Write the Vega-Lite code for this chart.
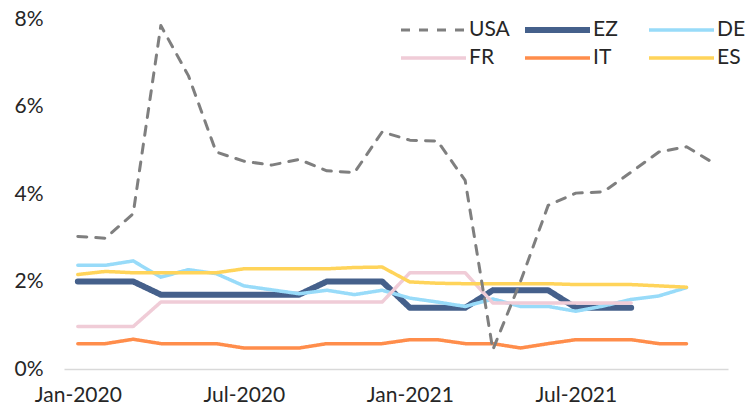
{
  "$schema": "https://vega.github.io/schema/vega-lite/v6.json",
  "autosize": {"type": "none"},
  "width": 664,
  "height": 350,
  "padding": {"left": 64, "top": 19, "right": 17, "bottom": 40},
  "config": {
    "font": "Lato",
    "view": {"stroke": null},
    "axis": {"labelFont": "Lato", "labelFontSize": 21, "labelColor": "#262626"},
    "legend": {"labelFont": "Lato", "labelFontSize": 21, "labelColor": "#262626"}
  },
  "data": {
    "values": [
      {"month": "Jan-2020", "series": "EZ", "value": 2.0},
      {"month": "Feb-2020", "series": "EZ", "value": 2.0},
      {"month": "Mar-2020", "series": "EZ", "value": 2.0},
      {"month": "Apr-2020", "series": "EZ", "value": 1.7},
      {"month": "May-2020", "series": "EZ", "value": 1.7},
      {"month": "Jun-2020", "series": "EZ", "value": 1.7},
      {"month": "Jul-2020", "series": "EZ", "value": 1.7},
      {"month": "Aug-2020", "series": "EZ", "value": 1.7},
      {"month": "Sep-2020", "series": "EZ", "value": 1.7},
      {"month": "Oct-2020", "series": "EZ", "value": 2.0},
      {"month": "Nov-2020", "series": "EZ", "value": 2.0},
      {"month": "Dec-2020", "series": "EZ", "value": 2.0},
      {"month": "Jan-2021", "series": "EZ", "value": 1.4},
      {"month": "Feb-2021", "series": "EZ", "value": 1.4},
      {"month": "Mar-2021", "series": "EZ", "value": 1.4},
      {"month": "Apr-2021", "series": "EZ", "value": 1.8},
      {"month": "May-2021", "series": "EZ", "value": 1.8},
      {"month": "Jun-2021", "series": "EZ", "value": 1.8},
      {"month": "Jul-2021", "series": "EZ", "value": 1.4},
      {"month": "Aug-2021", "series": "EZ", "value": 1.4},
      {"month": "Sep-2021", "series": "EZ", "value": 1.4},

      {"month": "Jan-2020", "series": "DE", "value": 2.37},
      {"month": "Feb-2020", "series": "DE", "value": 2.37},
      {"month": "Mar-2020", "series": "DE", "value": 2.47},
      {"month": "Apr-2020", "series": "DE", "value": 2.10},
      {"month": "May-2020", "series": "DE", "value": 2.27},
      {"month": "Jun-2020", "series": "DE", "value": 2.18},
      {"month": "Jul-2020", "series": "DE", "value": 1.90},
      {"month": "Aug-2020", "series": "DE", "value": 1.81},
      {"month": "Sep-2020", "series": "DE", "value": 1.72},
      {"month": "Oct-2020", "series": "DE", "value": 1.80},
      {"month": "Nov-2020", "series": "DE", "value": 1.70},
      {"month": "Dec-2020", "series": "DE", "value": 1.80},
      {"month": "Jan-2021", "series": "DE", "value": 1.62},
      {"month": "Feb-2021", "series": "DE", "value": 1.53},
      {"month": "Mar-2021", "series": "DE", "value": 1.43},
      {"month": "Apr-2021", "series": "DE", "value": 1.60},
      {"month": "May-2021", "series": "DE", "value": 1.43},
      {"month": "Jun-2021", "series": "DE", "value": 1.43},
      {"month": "Jul-2021", "series": "DE", "value": 1.32},
      {"month": "Aug-2021", "series": "DE", "value": 1.44},
      {"month": "Sep-2021", "series": "DE", "value": 1.59},
      {"month": "Oct-2021", "series": "DE", "value": 1.67},
      {"month": "Nov-2021", "series": "DE", "value": 1.86},

      {"month": "Jan-2020", "series": "FR", "value": 0.97},
      {"month": "Feb-2020", "series": "FR", "value": 0.97},
      {"month": "Mar-2020", "series": "FR", "value": 0.97},
      {"month": "Apr-2020", "series": "FR", "value": 1.53},
      {"month": "May-2020", "series": "FR", "value": 1.53},
      {"month": "Jun-2020", "series": "FR", "value": 1.53},
      {"month": "Jul-2020", "series": "FR", "value": 1.53},
      {"month": "Aug-2020", "series": "FR", "value": 1.53},
      {"month": "Sep-2020", "series": "FR", "value": 1.53},
      {"month": "Oct-2020", "series": "FR", "value": 1.53},
      {"month": "Nov-2020", "series": "FR", "value": 1.53},
      {"month": "Dec-2020", "series": "FR", "value": 1.53},
      {"month": "Jan-2021", "series": "FR", "value": 2.2},
      {"month": "Feb-2021", "series": "FR", "value": 2.2},
      {"month": "Mar-2021", "series": "FR", "value": 2.2},
      {"month": "Apr-2021", "series": "FR", "value": 1.51},
      {"month": "May-2021", "series": "FR", "value": 1.51},
      {"month": "Jun-2021", "series": "FR", "value": 1.51},
      {"month": "Jul-2021", "series": "FR", "value": 1.51},
      {"month": "Aug-2021", "series": "FR", "value": 1.51},
      {"month": "Sep-2021", "series": "FR", "value": 1.51},

      {"month": "Jan-2020", "series": "IT", "value": 0.58},
      {"month": "Feb-2020", "series": "IT", "value": 0.58},
      {"month": "Mar-2020", "series": "IT", "value": 0.68},
      {"month": "Apr-2020", "series": "IT", "value": 0.58},
      {"month": "May-2020", "series": "IT", "value": 0.58},
      {"month": "Jun-2020", "series": "IT", "value": 0.58},
      {"month": "Jul-2020", "series": "IT", "value": 0.48},
      {"month": "Aug-2020", "series": "IT", "value": 0.48},
      {"month": "Sep-2020", "series": "IT", "value": 0.48},
      {"month": "Oct-2020", "series": "IT", "value": 0.58},
      {"month": "Nov-2020", "series": "IT", "value": 0.58},
      {"month": "Dec-2020", "series": "IT", "value": 0.58},
      {"month": "Jan-2021", "series": "IT", "value": 0.67},
      {"month": "Feb-2021", "series": "IT", "value": 0.67},
      {"month": "Mar-2021", "series": "IT", "value": 0.58},
      {"month": "Apr-2021", "series": "IT", "value": 0.58},
      {"month": "May-2021", "series": "IT", "value": 0.48},
      {"month": "Jun-2021", "series": "IT", "value": 0.58},
      {"month": "Jul-2021", "series": "IT", "value": 0.67},
      {"month": "Aug-2021", "series": "IT", "value": 0.67},
      {"month": "Sep-2021", "series": "IT", "value": 0.67},
      {"month": "Oct-2021", "series": "IT", "value": 0.58},
      {"month": "Nov-2021", "series": "IT", "value": 0.58},

      {"month": "Jan-2020", "series": "ES", "value": 2.16},
      {"month": "Feb-2020", "series": "ES", "value": 2.23},
      {"month": "Mar-2020", "series": "ES", "value": 2.20},
      {"month": "Apr-2020", "series": "ES", "value": 2.20},
      {"month": "May-2020", "series": "ES", "value": 2.20},
      {"month": "Jun-2020", "series": "ES", "value": 2.20},
      {"month": "Jul-2020", "series": "ES", "value": 2.29},
      {"month": "Aug-2020", "series": "ES", "value": 2.29},
      {"month": "Sep-2020", "series": "ES", "value": 2.29},
      {"month": "Oct-2020", "series": "ES", "value": 2.29},
      {"month": "Nov-2020", "series": "ES", "value": 2.32},
      {"month": "Dec-2020", "series": "ES", "value": 2.33},
      {"month": "Jan-2021", "series": "ES", "value": 1.99},
      {"month": "Feb-2021", "series": "ES", "value": 1.96},
      {"month": "Mar-2021", "series": "ES", "value": 1.95},
      {"month": "Apr-2021", "series": "ES", "value": 1.95},
      {"month": "May-2021", "series": "ES", "value": 1.95},
      {"month": "Jun-2021", "series": "ES", "value": 1.95},
      {"month": "Jul-2021", "series": "ES", "value": 1.93},
      {"month": "Aug-2021", "series": "ES", "value": 1.93},
      {"month": "Sep-2021", "series": "ES", "value": 1.93},
      {"month": "Oct-2021", "series": "ES", "value": 1.90},
      {"month": "Nov-2021", "series": "ES", "value": 1.87},

      {"month": "Jan-2020", "series": "USA", "value": 3.03},
      {"month": "Feb-2020", "series": "USA", "value": 2.99},
      {"month": "Mar-2020", "series": "USA", "value": 3.55},
      {"month": "Apr-2020", "series": "USA", "value": 7.85},
      {"month": "May-2020", "series": "USA", "value": 6.7},
      {"month": "Jun-2020", "series": "USA", "value": 4.96},
      {"month": "Jul-2020", "series": "USA", "value": 4.75},
      {"month": "Aug-2020", "series": "USA", "value": 4.66},
      {"month": "Sep-2020", "series": "USA", "value": 4.79},
      {"month": "Oct-2020", "series": "USA", "value": 4.53},
      {"month": "Nov-2020", "series": "USA", "value": 4.49},
      {"month": "Dec-2020", "series": "USA", "value": 5.42},
      {"month": "Jan-2021", "series": "USA", "value": 5.23},
      {"month": "Feb-2021", "series": "USA", "value": 5.21},
      {"month": "Mar-2021", "series": "USA", "value": 4.31},
      {"month": "Apr-2021", "series": "USA", "value": 0.44},
      {"month": "May-2021", "series": "USA", "value": 2.0},
      {"month": "Jun-2021", "series": "USA", "value": 3.74},
      {"month": "Jul-2021", "series": "USA", "value": 4.02},
      {"month": "Aug-2021", "series": "USA", "value": 4.05},
      {"month": "Sep-2021", "series": "USA", "value": 4.50},
      {"month": "Oct-2021", "series": "USA", "value": 4.96},
      {"month": "Nov-2021", "series": "USA", "value": 5.08},
      {"month": "Dec-2021", "series": "USA", "value": 4.70}
    ]
  },
  "mark": {"type": "line", "strokeCap": "round", "strokeJoin": "round"},
  "encoding": {
    "x": {
      "field": "month",
      "type": "ordinal",
      "sort": null,
      "scale": {
        "domain": ["Jan-2020","Feb-2020","Mar-2020","Apr-2020","May-2020","Jun-2020","Jul-2020","Aug-2020","Sep-2020","Oct-2020","Nov-2020","Dec-2020","Jan-2021","Feb-2021","Mar-2021","Apr-2021","May-2021","Jun-2021","Jul-2021","Aug-2021","Sep-2021","Oct-2021","Nov-2021","Dec-2021"],
        "padding": 0.5
      },
      "axis": {
        "title": null,
        "labelAngle": 0,
        "ticks": false,
        "grid": false,
        "domainColor": "#d9d9d9",
        "domainWidth": 1.5,
        "labelPadding": 15,
        "labelOverlap": false,
        "labelExpr": "indexof(['Jan','Jul'], slice(datum.label,0,3)) >= 0 ? datum.label : ''"
      }
    },
    "y": {
      "field": "value",
      "type": "quantitative",
      "scale": {"domain": [0, 8], "nice": false},
      "axis": {
        "title": null,
        "values": [0, 2, 4, 6, 8],
        "labelExpr": "datum.value + '%'",
        "domain": false,
        "ticks": false,
        "grid": false,
        "labelPadding": 21
      }
    },
    "color": {
      "field": "series",
      "type": "nominal",
      "scale": {
        "domain": ["USA", "EZ", "DE", "FR", "IT", "ES"],
        "range": ["#7f7f7f", "#45608b", "#98dbf9", "#f0ccd7", "#ff8d4b", "#ffd45a"]
      },
      "legend": {"title": null, "orient": "none", "direction": "horizontal", "legendX": 334, "legendY": 0, "columns": 3, "symbolType": "stroke", "symbolSize": 4225, "labelOffset": 0, "columnPadding": 12, "rowPadding": 6, "clipHeight": 22, "gridAlign": "all", "padding": 0}
    },
    "strokeDash": {
      "field": "series",
      "type": "nominal",
      "scale": {
        "domain": ["USA", "EZ", "DE", "FR", "IT", "ES"],
        "range": [[9, 9], [1, 0], [1, 0], [1, 0], [1, 0], [1, 0]]
      },
      "legend": {"title": null, "orient": "none", "direction": "horizontal", "legendX": 334, "legendY": 0, "columns": 3, "symbolType": "stroke", "symbolSize": 4225, "labelOffset": 0, "columnPadding": 12, "rowPadding": 6, "clipHeight": 22, "gridAlign": "all", "padding": 0}
    },
    "strokeWidth": {
      "field": "series",
      "type": "nominal",
      "scale": {
        "type": "ordinal",
        "domain": ["USA", "EZ", "DE", "FR", "IT", "ES"],
        "range": [3, 6, 3.5, 3.5, 3.5, 3.5]
      },
      "legend": {"title": null, "orient": "none", "direction": "horizontal", "legendX": 334, "legendY": 0, "columns": 3, "symbolType": "stroke", "symbolSize": 4225, "labelOffset": 0, "columnPadding": 12, "rowPadding": 6, "clipHeight": 22, "gridAlign": "all", "padding": 0}
    }
  }
}
